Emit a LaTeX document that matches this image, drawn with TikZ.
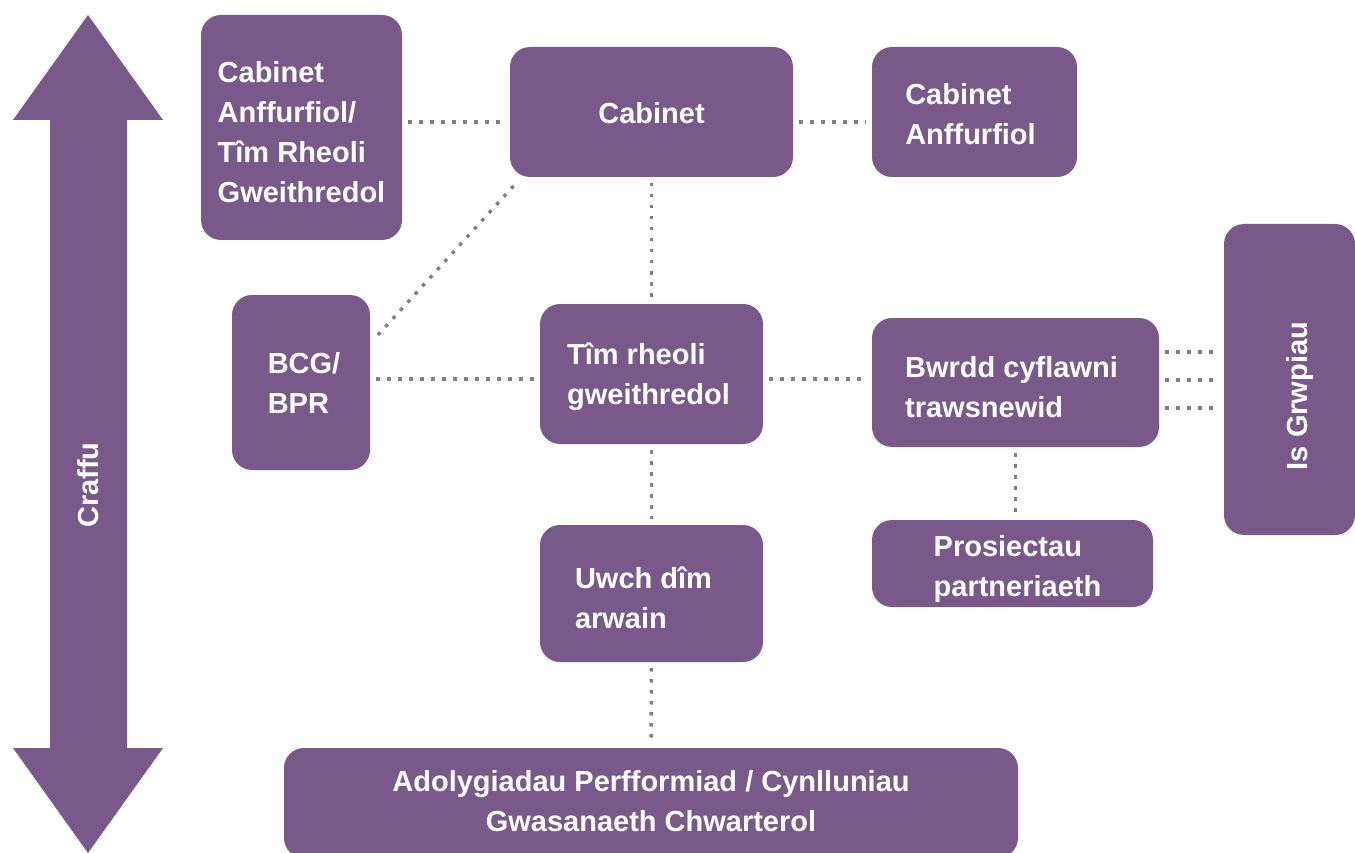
\documentclass[tikz,border=0pt]{standalone}
\usepackage{fontspec}
\setmainfont{Liberation Sans}
\usetikzlibrary{calc}
\definecolor{plum}{RGB}{121,89,138}
\definecolor{dotgray}{RGB}{128,128,128}
\begin{document}
\begin{tikzpicture}[x=1pt,y=-1pt,
  box/.style={fill=plum, rounded corners=20pt, inner sep=0pt, outer sep=0pt},
  txt/.style={text=white, font=\bfseries\fontsize{29}{40}\selectfont, align=left, inner sep=0pt},
  lbl/.style={text=white, font=\bfseries\fontsize{29}{40}\selectfont, inner sep=0pt},
  dots/.style={dotgray, line width=3.5pt, dash pattern=on 3.5pt off 7.5pt, shorten <=6pt, shorten >=6pt}]
\useasboundingbox (0,0) rectangle (1355,853);

% Craffu double arrow
\fill[plum] (88,15) -- (163,120) -- (127,120) -- (127,748) -- (163,748) -- (88,853)
  -- (13,748) -- (50,748) -- (50,120) -- (13,120) -- cycle;
\node[lbl, rotate=90] (craffu) at (88,485) {Craffu};

% boxes
\node[box, minimum width=201pt, minimum height=225pt] (b1) at (301.5,127.5) {};
\node[box, minimum width=283pt, minimum height=130pt] (cab) at (651.5,112) {};
\node[box, minimum width=205pt, minimum height=130pt] (cabr) at (974.5,112) {};
\node[box, minimum width=138pt, minimum height=175pt] (bcg) at (301,382.5) {};
\node[box, minimum width=223pt, minimum height=140pt] (tim) at (651.5,374) {};
\node[box, minimum width=287pt, minimum height=129pt] (bwrdd) at (1015.5,382.5) {};
\node[box, minimum width=131pt, minimum height=311pt] (isg) at (1289.5,379.5) {};
\node[box, minimum width=281pt, minimum height=87pt] (pros) at (1012.5,563.5) {};
\node[box, minimum width=223pt, minimum height=137pt] (uwch) at (651.5,593.5) {};
\node[box, minimum width=734pt, minimum height=110pt] (adol) at (651,803) {};

% texts
\node[txt] (b1t) at ($(b1.center)+(0,5)$) {Cabinet\\Anffurfiol/\\Tîm Rheoli\\Gweithredol};
\node[txt] (cabt) at ($(cab.center)+(0,1)$) {Cabinet};
\node[txt] (cabrt) at ($(cabr.center)+(-4,2)$) {Cabinet\\Anffurfiol};
\node[txt] (bcgt) at ($(bcg.center)+(3,0)$) {BCG/\\BPR};
\node[txt] (timt) at ($(tim.center)+(-3,3)$) {Tîm rheoli\\gweithredol};
\node[txt] (bwrddt) at ($(bwrdd.center)+(-4,5)$) {Bwrdd cyflawni\\trawsnewid};
\node[lbl, rotate=90] (isgt) at (1300,396) {Is Grwpiau};
\node[txt] (prost) at ($(pros.center)+(5,5)$) {Prosiectau\\partneriaeth};
\node[txt] (uwcht) at ($(uwch.center)+(-8,4)$) {Uwch dîm\\arwain};
\node[txt, align=center] (adolt) at ($(adol.center)+(0,-2)$)
  {Adolygiadau Perfformiad / Cynlluniau\\Gwasanaeth Chwarterol};

% connectors
\draw[dots] (b1.east |- 0,122) -- (cab.west |- 0,122);
\draw[dots] (cab.east |- 0,122) -- (cabr.west |- 0,122);
\draw[dots] (cab.south) -- (tim.north);
\draw[dots, shorten <=0pt, shorten >=0pt] ($(bcg.north east)+(8,40)$) -- ($(cab.south west)+(8,4)$);
\draw[dots] (bcg.east |- 0,379) -- (tim.west |- 0,379);
\draw[dots] (tim.east |- 0,379) -- (bwrdd.west |- 0,379);
\draw[dots] (tim.south) -- (uwch.north);
\draw[dots] (uwch.south) -- (adol.north);
\draw[dots] (bwrdd.south) -- (bwrdd.south |- pros.north);
\draw[dots] (bwrdd.east |- 0,352) -- (isg.west |- 0,352);
\draw[dots] (bwrdd.east |- 0,380) -- (isg.west |- 0,380);
\draw[dots] (bwrdd.east |- 0,408) -- (isg.west |- 0,408);
\end{tikzpicture}
\end{document}
